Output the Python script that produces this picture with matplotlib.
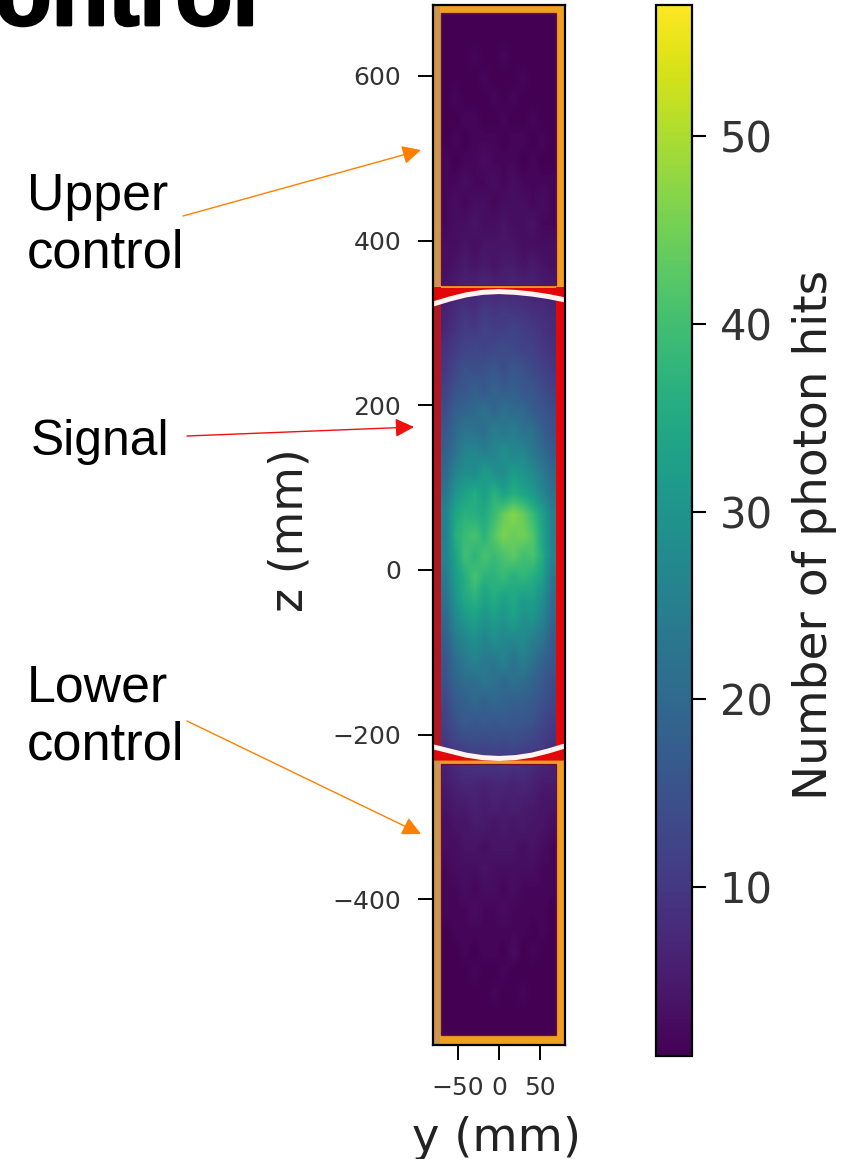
#!/usr/bin/env python
"""Photon hit map with signal and control regions"""

import matplotlib
matplotlib.use('Agg')
import matplotlib.pyplot as plt
import matplotlib.patheffects as path_effects
from matplotlib.patches import FancyArrowPatch, Rectangle
import numpy as np

# photon hits, top row is the highest z
photon_hits = [
    [1, 1, 1, 1, 1, 1, 1, 1, 1, 1, 1, 1],
    [1, 1, 1, 1, 1, 1, 1, 1, 1, 1, 1, 1],
    [1, 1, 1, 2, 1, 1, 2, 1, 1, 1, 1, 1],
    [1, 1, 1, 1, 2, 1, 1, 1, 2, 1, 1, 1],
    [1, 2, 1, 1, 1, 2, 1, 2, 1, 1, 1, 1],
    [1, 1, 2, 2, 1, 1, 2, 1, 1, 2, 1, 1],
    [1, 2, 1, 2, 2, 2, 1, 2, 2, 1, 2, 1],
    [2, 1, 2, 2, 3, 2, 2, 2, 1, 2, 1, 1],
    [2, 2, 3, 2, 2, 3, 2, 3, 2, 2, 2, 2],
    [2, 3, 2, 3, 3, 2, 3, 3, 3, 2, 3, 2],
    [2, 3, 3, 4, 3, 3, 4, 3, 3, 4, 2, 2],
    [3, 3, 4, 3, 4, 4, 4, 4, 3, 3, 3, 3],
    [3, 4, 5, 4, 5, 4, 5, 5, 4, 5, 4, 3],
    [4, 5, 6, 6, 7, 6, 6, 7, 6, 6, 5, 5],
    [6, 8, 9, 8, 10, 9, 10, 9, 9, 8, 8, 7],
    [7, 9, 11, 10, 12, 11, 11, 12, 11, 10, 9, 8],
    [9, 11, 12, 13, 12, 13, 14, 13, 12, 12, 10, 9],
    [10, 13, 15, 14, 15, 16, 14, 16, 15, 13, 12, 10],
    [12, 15, 16, 18, 16, 19, 17, 18, 16, 16, 14, 12],
    [14, 18, 19, 20, 22, 19, 22, 20, 20, 17, 16, 14],
    [16, 20, 23, 22, 21, 25, 23, 25, 22, 22, 18, 15],
    [18, 22, 26, 27, 25, 26, 29, 26, 27, 23, 21, 17],
    [20, 26, 29, 28, 32, 29, 28, 32, 30, 28, 24, 20],
    [23, 30, 33, 36, 32, 37, 33, 36, 34, 31, 27, 22],
    [26, 34, 37, 36, 35, 39, 44, 47, 44, 39, 33, 25],
    [25, 36, 39, 41, 37, 42, 46, 44, 45, 42, 34, 25],
    [26, 33, 40, 37, 41, 39, 41, 43, 40, 41, 35, 26],
    [24, 32, 36, 41, 37, 37, 39, 36, 38, 36, 33, 23],
    [22, 30, 35, 37, 33, 36, 33, 35, 32, 33, 29, 21],
    [20, 27, 31, 33, 30, 32, 30, 33, 29, 30, 26, 20],
    [18, 24, 27, 29, 26, 29, 27, 27, 28, 25, 23, 17],
    [16, 21, 24, 26, 24, 23, 26, 22, 25, 22, 19, 16],
    [15, 19, 21, 21, 23, 22, 20, 22, 21, 19, 17, 14],
    [13, 17, 18, 20, 18, 20, 19, 18, 18, 17, 15, 13],
    [12, 15, 17, 16, 17, 16, 17, 16, 16, 15, 13, 11],
    [10, 12, 13, 14, 13, 14, 13, 14, 13, 12, 11, 9],
    [6, 8, 9, 9, 10, 9, 10, 9, 9, 8, 7, 6],
    [5, 6, 7, 7, 6, 7, 7, 6, 7, 6, 5, 5],
    [4, 5, 5, 6, 5, 6, 5, 6, 5, 5, 4, 4],
    [3, 4, 4, 5, 5, 4, 5, 4, 5, 4, 4, 3],
    [3, 3, 4, 4, 3, 4, 4, 4, 3, 4, 3, 2],
    [2, 3, 3, 3, 4, 3, 3, 3, 3, 3, 2, 2],
    [2, 2, 3, 2, 3, 3, 2, 3, 2, 2, 2, 2],
    [2, 2, 2, 3, 2, 2, 3, 2, 2, 2, 2, 1],
    [1, 2, 2, 2, 2, 2, 2, 2, 2, 1, 2, 1],
    [1, 1, 2, 1, 2, 2, 1, 3, 1, 2, 1, 1],
    [1, 1, 1, 2, 1, 1, 2, 1, 1, 1, 1, 1],
    [1, 1, 1, 1, 1, 2, 1, 1, 2, 1, 1, 1],
    [1, 1, 1, 1, 1, 1, 1, 1, 1, 1, 1, 1],
    [1, 1, 1, 1, 1, 1, 1, 1, 1, 1, 1, 1],
]

# white arcs bounding the signal region
arc_y = [-80, -60, -40, -20, 0, 20, 40, 60, 80]
arc_upper_z = [323, 329, 334, 337, 338, 337, 335, 332, 328]
arc_lower_z = [-215, -220, -225, -228, -229, -228, -225, -220, -214]

z_ticks = [-400, -200, 0, 200, 400, 600]
y_ticks = [-50, 0, 50]
cbar_ticks = [10, 20, 30, 40, 50]

ORANGE = '#f0a020'
ORANGE_DIM = '#cc9650'
RED = '#e00808'
RED_DIM = '#b01820'
TICK_COLOR = '#333333'
LABEL_COLOR = '#222222'


def px_rect(left, top, right, bottom):
    """figure pixels (from top left) to a figure fraction rectangle"""
    return [left / 853, 1 - bottom / 1159, (right - left) / 853, (bottom - top) / 1159]


def draw_regions(ax):
    # upper and lower control boxes
    for z0, z1 in [(343, 686), (-577, -231)]:
        ax.add_patch(Rectangle((-80.5, z0), 9.8, z1 - z0, color=ORANGE_DIM, lw=0, zorder=2))
        ax.add_patch(Rectangle((69.5, z0), 11, z1 - z0, color=ORANGE, lw=0, zorder=2))
    ax.add_patch(Rectangle((-72, 676), 142, 10, color=ORANGE, lw=0, zorder=2))
    ax.add_patch(Rectangle((-72, 342), 142, 4, color=ORANGE, lw=0, zorder=2))
    ax.add_patch(Rectangle((-72, -236), 142, 5, color=ORANGE, lw=0, zorder=2))
    ax.add_patch(Rectangle((-72, -577), 142, 12, color=ORANGE, lw=0, zorder=2))

    # thin dark rim just inside the control boxes
    for z0, z1 in [(346, 676), (-565, -236)]:
        ax.add_patch(Rectangle((-70.7, z0), 140.2, z1 - z0, fill=False,
                               edgecolor='#6a1038', lw=0.9, zorder=2))

    # signal box, filled up to the arcs
    ax.add_patch(Rectangle((-80.5, -229), 9.8, 572, color=RED_DIM, lw=0, zorder=3))
    ax.add_patch(Rectangle((69.5, -229), 11, 572, color=RED, lw=0, zorder=3))
    ax.fill_between(arc_y, arc_upper_z, 343, color=RED, lw=0, zorder=3)
    ax.fill_between(arc_y, arc_lower_z, -231, color=RED, lw=0, zorder=3)
    ax.plot(arc_y, arc_upper_z, color='#fff4f0', lw=3.6, zorder=4, solid_capstyle='round')
    ax.plot(arc_y, arc_lower_z, color='#fff4f0', lw=3.6, zorder=4, solid_capstyle='round')


def draw_notes(fig):
    """slide text and arrows, placed in picture pixels"""
    over = fig.add_axes([0, 0, 1, 1], zorder=10)
    over.set_xlim(0, 853)
    over.set_ylim(1159, 0)
    over.axis('off')

    font = {'family': 'Liberation Sans', 'color': 'black', 'va': 'baseline'}
    over.text(27, 210, 'Upper', fontsize=37.4, **font)
    over.text(27, 268, 'control', fontsize=37.8, **font)
    over.text(31, 455, 'Signal', fontsize=35.8, **font)
    over.text(27, 701, 'Lower', fontsize=37.4, **font)
    over.text(27, 759, 'control', fontsize=37.8, **font)
    title = over.text(258, 25, 'Control', fontsize=67, fontweight='bold', ha='right',
                      family='Liberation Sans', va='baseline', color='black', clip_on=True)
    title.set_path_effects([path_effects.withStroke(linewidth=2, foreground='black')])

    arrows = [((183, 216), (421, 150), '#ff8000'),
              ((187, 436), (414, 427), '#f01010'),
              ((187, 721), (421, 834), '#ff8000')]
    for start, end, color in arrows:
        over.add_patch(FancyArrowPatch(start, end,
                                       arrowstyle='-|>,head_length=0.6,head_width=0.3',
                                       mutation_scale=19, color=color, lw=1.0,
                                       shrinkA=0, shrinkB=0))


def main():
    fig = plt.figure(figsize=(8.53, 11.59), dpi=100)

    ax = fig.add_axes(px_rect(433, 5, 565, 1045))
    im = ax.imshow(np.array(photon_hits), cmap='viridis', vmin=1, vmax=57, aspect='auto',
                   extent=(-71, 70, -577, 686), interpolation='bilinear', zorder=1)
    ax.set_xlim(-80.5, 80.5)
    ax.set_ylim(-577, 686)
    draw_regions(ax)

    ax.set_xticks(y_ticks)
    ax.set_yticks(z_ticks)
    ax.tick_params(length=11, width=1.4, labelsize=18, labelcolor=TICK_COLOR)
    ax.tick_params(axis='x', pad=11)
    ax.tick_params(axis='y', pad=12)
    ax.set_xlabel('y (mm)', fontsize=33.5, color=LABEL_COLOR, labelpad=12, x=0.482)
    ax.set_ylabel('z (mm)', fontsize=33, color=LABEL_COLOR, labelpad=14, y=0.495)
    for spine in ax.spines.values():
        spine.set_linewidth(1.6)
        spine.set_zorder(6)

    cax = fig.add_axes(px_rect(656, 5, 692, 1056))
    cbar = fig.colorbar(im, cax=cax, ticks=cbar_ticks)
    cbar.ax.tick_params(length=10, width=1.5, labelsize=30, labelcolor=TICK_COLOR, pad=10)
    cbar.set_label('Number of photon hits', fontsize=33.8, color=LABEL_COLOR, labelpad=14, y=0.496)
    cbar.outline.set_linewidth(1.6)

    draw_notes(fig)

    fig.savefig('out.png', dpi=100)
    plt.close(fig)


if __name__ == '__main__':
    main()
